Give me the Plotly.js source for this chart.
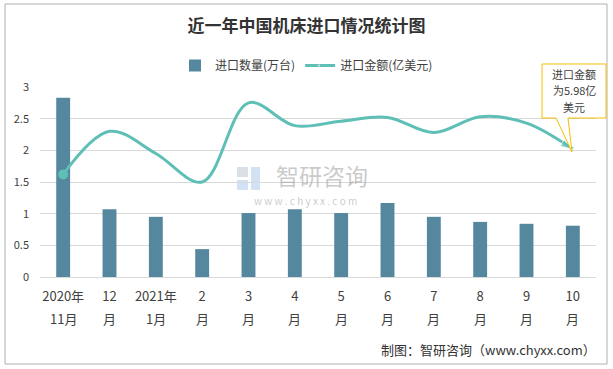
<!DOCTYPE html>
<html>
<head>
<meta charset="utf-8">
<script src="https://cdn.plot.ly/plotly-3.0.1.min.js"></script>
<style>html,body{margin:0;padding:0;background:#fff;}#chart{width:613px;height:369px;}</style>
</head>
<body>
<div id="chart"></div>
<script>
// ---- data ----
const categories = ["2020年11月","12月","2021年1月","2月","3月","4月","5月","6月","7月","8月","9月","10月"];
const tickLine1 = ["2020年","12","2021年","2","3","4","5","6","7","8","9","10"];
const tickLine2 = ["11月","月","1月","月","月","月","月","月","月","月","月","月"];
const quantity = [2.83, 1.07, 0.95, 0.44, 1.01, 1.07, 1.01, 1.17, 0.95, 0.87, 0.84, 0.81]; // 进口数量(万台)
const amount = [1.62, 2.30, 1.95, 1.50, 2.75, 2.39, 2.46, 2.52, 2.28, 2.53, 2.43, 2.02];   // 进口金额(亿美元)
const yTicks = [0, 0.5, 1, 1.5, 2, 2.5, 3];
const seriesNames = ["进口数量(万台)", "进口金额(亿美元)"];
const titleText = "近一年中国机床进口情况统计图";
const calloutLines = ["进口金额", "为5.98亿", "美元"];
const sourceText = "制图：智研咨询（www.chyxx.com）";

const FONT = "'Noto Sans CJK SC', 'Microsoft YaHei', sans-serif";
const LINE_COLOR = "#5dbfb5";

const n = amount.length;
const endSizes = amount.map((v, i) => i === n - 1 ? 13 : 0);

const traces = [
  {
    type: "bar",
    name: seriesNames[0],
    x: categories,
    y: quantity,
    marker: {color: "#55889f"},
    hoverinfo: "none"
  },
  {
    type: "scatter",
    mode: "lines+markers",
    name: seriesNames[1],
    x: categories,
    y: amount,
    line: {color: LINE_COLOR, width: 3, shape: "spline", smoothing: 1},
    marker: {color: LINE_COLOR, symbol: "arrow", size: endSizes, angleref: "previous"},
    hoverinfo: "none"
  },
  {
    // start dot of the amount line
    type: "scatter",
    mode: "markers",
    x: categories.slice(0, 1),
    y: amount.slice(0, 1),
    marker: {color: LINE_COLOR, symbol: "circle", size: 10},
    showlegend: false,
    hoverinfo: "none"
  }
];

// pixel -> paper helpers for decorations
const L = 40, R = 596, T = 87, B = 277;
const px = v => (v - L) / (R - L);
const py = v => (B - v) / (B - T);
const calloutPath = [
  [542, 64], [606, 64], [606, 118], [568, 118], [572, 152], [556, 118], [542, 118]
].map((p, i) => (i === 0 ? "M" : "L") + px(p[0]).toFixed(4) + "," + py(p[1]).toFixed(4)).join(" ") + " Z";

function prect(x0, y0, x1, y1, color) {
  return {type: "rect", xref: "paper", yref: "paper", x0: px(x0), x1: px(x1), y0: py(y1), y1: py(y0),
          line: {width: 0}, fillcolor: color, layer: "below"};
}

const secondLineAnnotations = categories.map((c, i) => ({
  xref: "x", yref: "paper", x: c, y: py(318), xanchor: "center", yanchor: "middle",
  text: tickLine2[i], showarrow: false,
  font: {family: FONT, size: 13, color: "#404040"}
}));

const calloutAnnotations = calloutLines.map((t, i) => ({
  xref: "paper", yref: "paper", x: px(574), y: py(74 + i * 16.5),
  xanchor: "center", yanchor: "middle", text: t, showarrow: false, borderpad: 0,
  font: {family: FONT, size: 11, color: "#404040"}
}));

const layout = {
  width: 613,
  height: 369,
  margin: {l: L, r: 613 - R, t: T, b: 369 - B, pad: 0},
  paper_bgcolor: "#ffffff",
  plot_bgcolor: "#ffffff",
  font: {family: FONT, color: "#404040", size: 12},
  title: {
    text: "<b>" + titleText + "</b>",
    x: 0.5, xref: "container", xanchor: "center",
    y: 1 - 26 / 369, yref: "container", yanchor: "middle",
    font: {family: FONT, size: 17, color: "#333333"}
  },
  showlegend: true,
  legend: {
    orientation: "h",
    x: 0.5, xref: "container", xanchor: "center",
    y: 1 - 51 / 369, yref: "container", yanchor: "top",
    font: {family: FONT, size: 12, color: "#404040"},
    traceorder: "normal",
    itemwidth: 30
  },
  bargap: 0.7,
  xaxis: {
    type: "category",
    range: [-0.5, categories.length - 0.5],
    autorange: false,
    tickvals: categories,
    ticktext: tickLine1,
    showgrid: false,
    showline: true,
    linecolor: "#d9d9d9",
    linewidth: 1,
    ticks: "",
    tickangle: 0,
    ticklabelstandoff: 7,
    tickfont: {family: FONT, size: 13, color: "#404040"},
    fixedrange: true
  },
  yaxis: {
    range: [0, 3],
    autorange: false,
    tickvals: yTicks,
    ticktext: yTicks.map(String),
    showgrid: true,
    gridcolor: "#d9d9d9",
    gridwidth: 1,
    zeroline: false,
    showline: false,
    ticks: "",
    ticklabelstandoff: 10,
    tickfont: {family: FONT, size: 11, color: "#404040"},
    fixedrange: true
  },
  shapes: [
    {
      type: "rect", xref: "paper", yref: "paper",
      x0: px(5), x1: px(607), y0: py(364), y1: py(4),
      line: {color: "#b0b0b0", width: 1}, fillcolor: "rgba(0,0,0,0)", layer: "below"
    },
    prect(237, 167, 248, 177, "rgba(175,185,200,0.45)"),
    prect(237, 180, 248, 190, "rgba(150,190,230,0.45)"),
    prect(251, 167, 260, 190, "rgba(150,190,230,0.45)"),
    {
      type: "path", xref: "paper", yref: "paper",
      path: calloutPath,
      line: {color: "#f5c000", width: 1}, fillcolor: "#ffffff", layer: "above"
    }
  ],
  annotations: [
    {
      xref: "paper", yref: "paper",
      x: px(598), y: py(349), xanchor: "right", yanchor: "middle",
      text: sourceText, showarrow: false,
      font: {family: FONT, size: 13, color: "#333333"}
    },
    {
      xref: "paper", yref: "paper",
      x: px(322), y: py(175), xanchor: "center", yanchor: "middle",
      text: "智研咨询", showarrow: false, borderpad: 0,
      font: {family: FONT, size: 23, color: "rgba(150,150,150,0.5)"}
    },
    {
      xref: "paper", yref: "paper",
      x: px(305), y: py(200), xanchor: "center", yanchor: "middle",
      text: "w w w . c h y x x . c o m", showarrow: false, borderpad: 0,
      font: {family: FONT, size: 10, color: "rgba(150,150,150,0.5)"}
    }
  ].concat(calloutAnnotations, secondLineAnnotations)
};

Plotly.newPlot("chart", traces, layout, {displayModeBar: false, staticPlot: true});
</script>
</body>
</html>
